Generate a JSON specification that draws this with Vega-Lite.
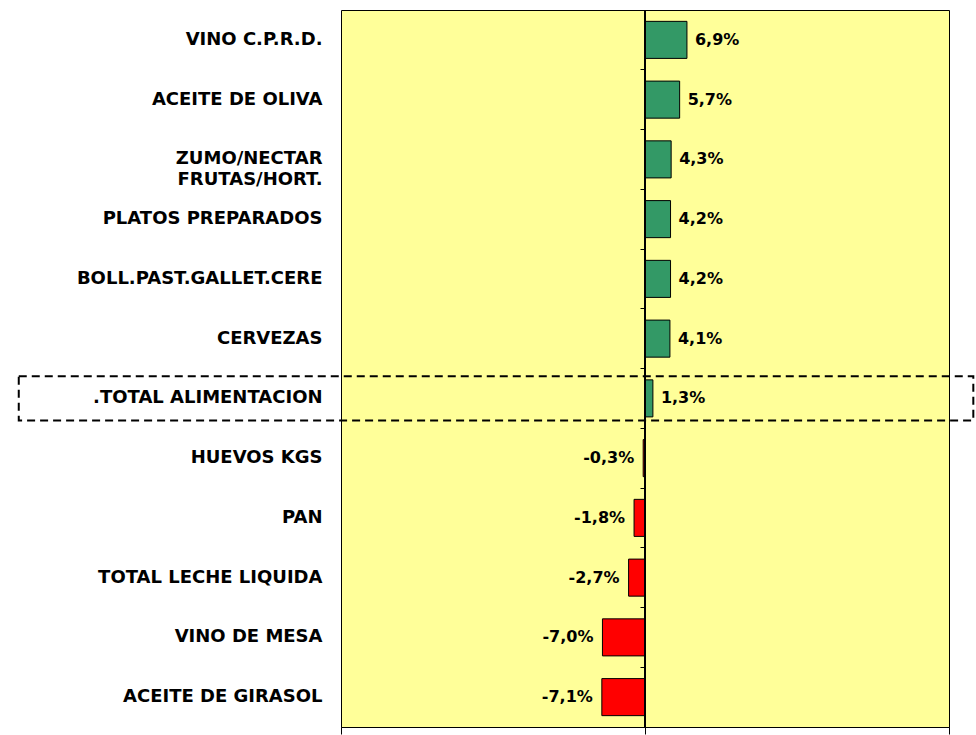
{
  "$schema": "https://vega.github.io/schema/vega-lite/v6.json",
  "autosize": {"type": "none"},
  "padding": {"left": 341, "top": 10, "right": 27, "bottom": 8},
  "width": 608,
  "height": 717,
  "background": "white",
  "config": {
    "view": {"fill": "#FFFF99", "stroke": "black", "strokeWidth": 1},
    "font": "DejaVu Sans"
  },
  "data": {
    "values": [
      {"cat": "VINO C.P.R.D.", "v": 6.9},
      {"cat": "ACEITE DE OLIVA", "v": 5.7},
      {"cat": "ZUMO/NECTAR FRUTAS/HORT.", "v": 4.3},
      {"cat": "PLATOS PREPARADOS", "v": 4.2},
      {"cat": "BOLL.PAST.GALLET.CERE", "v": 4.2},
      {"cat": "CERVEZAS", "v": 4.1},
      {"cat": ".TOTAL ALIMENTACION", "v": 1.3},
      {"cat": "HUEVOS KGS", "v": -0.3},
      {"cat": "PAN", "v": -1.8},
      {"cat": "TOTAL LECHE LIQUIDA", "v": -2.7},
      {"cat": "VINO DE MESA", "v": -7.0},
      {"cat": "ACEITE DE GIRASOL", "v": -7.1}
    ]
  },
  "transform": [
    {"calculate": "(datum.v < 0 ? '-' : '') + replace(format(abs(datum.v), '.1f'), '.', ',') + '%'", "as": "lbl"}
  ],
  "resolve": {"scale": {"y": "shared"}, "axis": {"y": "independent"}},
  "layer": [
    {
      "mark": {"type": "bar", "stroke": "black", "strokeWidth": 1, "height": {"band": 0.62}},
      "encoding": {
        "y": {
          "field": "cat", "type": "nominal", "sort": null,
          "scale": {"paddingInner": 0, "paddingOuter": 0},
          "axis": {
            "title": null, "ticks": false, "domain": false,
            "labelFontSize": 18, "labelFontWeight": "bold", "labelColor": "black",
            "labelFont": "DejaVu Sans", "labelPadding": 19, "labelLimit": 400,
            "labelLineHeight": 21,
            "labelExpr": "datum.label == 'ZUMO/NECTAR FRUTAS/HORT.' ? ['ZUMO/NECTAR', 'FRUTAS/HORT.'] : datum.label"
          }
        },
        "x": {
          "field": "v", "type": "quantitative",
          "scale": {"domain": [-50, 50], "nice": false, "zero": false},
          "axis": {
            "title": null, "labels": false, "grid": false, "values": [-50, 0, 50],
            "tickSize": 7, "tickColor": "black", "domainColor": "black", "domain": true
          }
        },
        "color": {
          "condition": {"test": "datum.v >= 0", "value": "#339966"},
          "value": "#FF0000"
        }
      }
    },
    {
      "mark": {"type": "rule", "color": "black", "strokeWidth": 1},
      "encoding": {"x": {"datum": 0}}
    },
    {
      "mark": {
        "type": "text", "fontSize": 16, "fontWeight": "bold", "color": "black",
        "font": "DejaVu Sans", "baseline": "middle",
        "align": {"expr": "datum.v >= 0 ? 'left' : 'right'"},
        "dx": {"expr": "datum.v >= 0 ? 8 : -9"}
      },
      "encoding": {
        "y": {
          "field": "cat", "type": "nominal", "sort": null,
          "axis": {
            "title": null, "labels": false, "domain": false, "ticks": true,
            "tickSize": 5, "tickColor": "black", "bandPosition": 0, "offset": -304,
            "orient": "left", "grid": false
          }
        },
        "x": {"field": "v", "type": "quantitative"},
        "text": {"field": "lbl"}
      }
    },
    {
      "transform": [{"filter": "datum.cat == '.TOTAL ALIMENTACION'"}],
      "mark": {
        "type": "bar", "fill": "transparent", "stroke": "black", "strokeWidth": 2,
        "strokeDash": [8, 5], "height": {"band": 0.74}
      },
      "encoding": {
        "y": {"field": "cat", "type": "nominal", "sort": null, "axis": null},
        "x": {"datum": -103},
        "x2": {"datum": 54}
      }
    }
  ]
}
